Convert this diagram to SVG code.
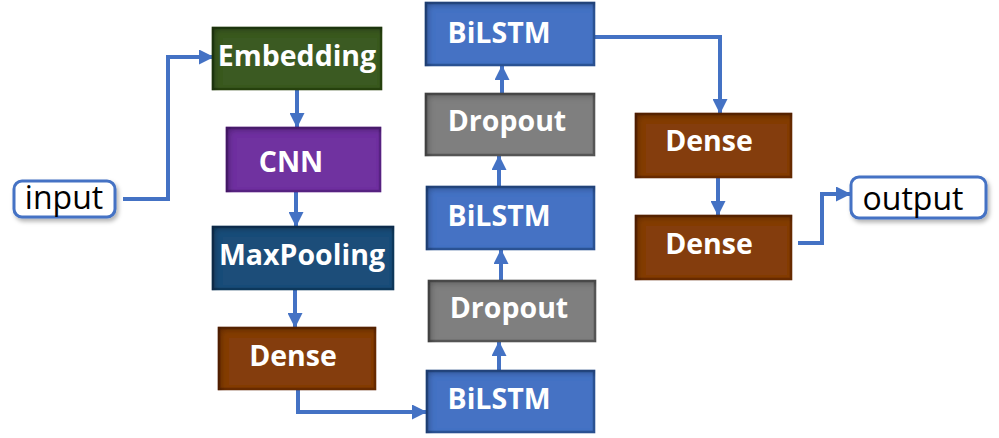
<svg xmlns="http://www.w3.org/2000/svg" width="999" height="438" viewBox="0 0 999 438">
<defs>
<style>
.lbl{font-family:"Open Sans","Noto Sans","Liberation Sans",sans-serif;font-weight:bold;font-size:28.5px;fill:#fff;text-anchor:middle}
.io{font-family:"Open Sans","Noto Sans","Liberation Sans",sans-serif;font-size:32px;fill:#000;text-anchor:middle}
.box{stroke-width:2.5;filter:url(#inset)}
.iobox{fill:#fff;stroke:#4472c4;stroke-width:3;filter:url(#drop)}
.conn{fill:none;stroke:#4472c4;stroke-width:4;marker-end:url(#arr)}
</style>
<filter id="inset" x="-10%" y="-10%" width="120%" height="120%">
<feComponentTransfer in="SourceAlpha" result="inv"><feFuncA type="table" tableValues="1 0"/></feComponentTransfer>
<feGaussianBlur in="inv" stdDeviation="3"/>
<feOffset dx="3" dy="3" result="sh"/>
<feFlood flood-color="#000" flood-opacity="0.6"/>
<feComposite in2="sh" operator="in"/>
<feComposite in2="SourceAlpha" operator="in" result="inner"/>
<feMerge><feMergeNode in="SourceGraphic"/><feMergeNode in="inner"/></feMerge>
</filter>
<filter id="drop" x="-20%" y="-30%" width="140%" height="160%">
<feGaussianBlur in="SourceAlpha" stdDeviation="2"/>
<feOffset dx="2" dy="3" result="b"/>
<feFlood flood-color="#000" flood-opacity="0.3"/>
<feComposite in2="b" operator="in"/>
<feMerge><feMergeNode/><feMergeNode in="SourceGraphic"/></feMerge>
</filter>
<marker id="arr" markerUnits="userSpaceOnUse" markerWidth="15" markerHeight="15" viewBox="0 0 15 15" refX="14" refY="7.5" orient="auto">
<path d="M0,0 L15,7.5 L0,15 Z" fill="#4472c4"/>
</marker>
</defs>
<g id="connectors">
<path class="conn" d="M123,199 H168 V57 H213"/>
<path class="conn" d="M297,89 V127"/>
<path class="conn" d="M296,191 V226"/>
<path class="conn" d="M295,289 V327"/>
<path class="conn" d="M298,389 V412 H426"/>
<path class="conn" d="M499,371 V342"/>
<path class="conn" d="M501,281 V250"/>
<path class="conn" d="M499,187 V156"/>
<path class="conn" d="M502,94 V66"/>
<path class="conn" d="M594,37 H720 V113"/>
<path class="conn" d="M718,177 V215"/>
<path class="conn" d="M798,243 H822 V194 H850"/>
</g>
<g id="input"><rect class="iobox" x="14" y="181" width="101" height="36" rx="8"/><text class="io" x="64" y="209">input</text></g>
<g id="embedding"><rect class="box" x="213" y="28" width="168" height="61" fill="#3b5a24" stroke="#2c4519"/><text class="lbl" x="297" y="66">Embedding</text></g>
<g id="cnn"><rect class="box" x="227" y="128" width="153" height="63" fill="#7030a0" stroke="#5a2585"/><text class="lbl" x="291" y="172">CNN</text></g>
<g id="maxpooling"><rect class="box" x="213" y="227" width="180" height="62" fill="#1f4e79" stroke="#163b5e"/><text class="lbl" x="302" y="265">MaxPooling</text></g>
<g id="dense1"><rect class="box" x="219" y="328" width="156" height="61" fill="#843c0c" stroke="#6a2f08"/><text class="lbl" x="293" y="366">Dense</text></g>
<g id="bilstm1"><rect class="box" x="427" y="371" width="167" height="61" fill="#4472c4" stroke="#2f5597"/><text class="lbl" x="499" y="409">BiLSTM</text></g>
<g id="dropout1"><rect class="box" x="429" y="281" width="166" height="60" fill="#7f7f7f" stroke="#595959"/><text class="lbl" x="509" y="318">Dropout</text></g>
<g id="bilstm2"><rect class="box" x="427" y="187" width="167" height="62" fill="#4472c4" stroke="#2f5597"/><text class="lbl" x="499" y="226">BiLSTM</text></g>
<g id="dropout2"><rect class="box" x="426" y="94" width="168" height="61" fill="#7f7f7f" stroke="#595959"/><text class="lbl" x="507" y="131">Dropout</text></g>
<g id="bilstm3"><rect class="box" x="426" y="3" width="168" height="62" fill="#4472c4" stroke="#2f5597"/><text class="lbl" x="499" y="43">BiLSTM</text></g>
<g id="dense2"><rect class="box" x="636" y="114" width="155" height="63" fill="#843c0c" stroke="#6a2f08"/><text class="lbl" x="709" y="151">Dense</text></g>
<g id="dense3"><rect class="box" x="636" y="216" width="155" height="63" fill="#843c0c" stroke="#6a2f08"/><text class="lbl" x="709" y="254">Dense</text></g>
<g id="output"><rect class="iobox" x="851" y="177" width="135" height="41" rx="8"/><text class="io" x="913" y="210">output</text></g>
</svg>
